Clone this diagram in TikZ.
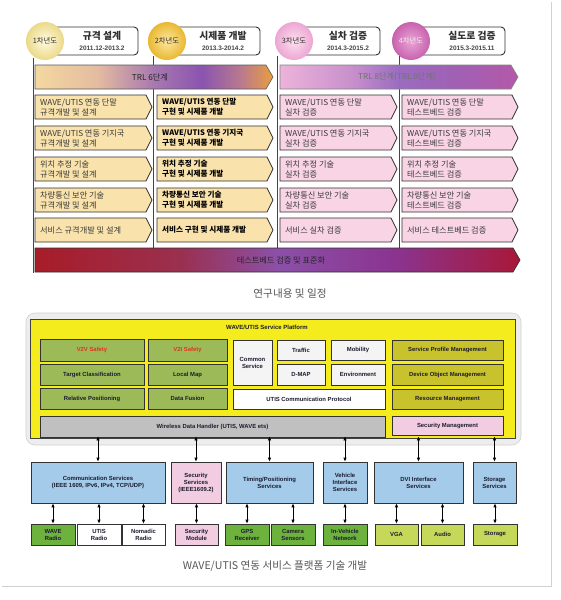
\documentclass[tikz,border=0pt]{standalone}
\usepackage{fontspec}
\setmainfont{Liberation Sans}
\newfontfamily\kr{Noto Sans CJK KR}
\usetikzlibrary{arrows.meta}
\definecolor{edge}{HTML}{303030}
\definecolor{tanbox}{HTML}{F9E2AC}
\definecolor{pinkbox}{HTML}{F8D4E4}
\definecolor{txtA}{HTML}{3A3A3A}
\definecolor{ylw}{HTML}{F4EC1C}
\definecolor{grn}{HTML}{9CBB58}
\definecolor{olv}{HTML}{C8C22C}
\definecolor{wgray}{HTML}{C0C0C0}
\definecolor{cwhite}{HTML}{F4F4F4}
\definecolor{secpink}{HTML}{F2CCE0}
\definecolor{svblue}{HTML}{A4CBEA}
\definecolor{devgrn}{HTML}{6CB23C}
\definecolor{devylg}{HTML}{C6D85A}
\definecolor{btxt}{HTML}{1C1C30}
\definecolor{redt}{HTML}{E03420}
\definecolor{capg}{HTML}{555555}
% shading colours
\definecolor{sa1}{HTML}{F4D8A0}\definecolor{sa2}{HTML}{E4BCA0}\definecolor{sa3}{HTML}{A878B0}
\definecolor{sa4}{HTML}{8A54B0}\definecolor{sa5}{HTML}{B87890}\definecolor{sa6}{HTML}{E89E40}
\definecolor{sb1}{HTML}{ECB4DA}\definecolor{sb2}{HTML}{C890CC}\definecolor{sb3}{HTML}{9A6CC0}
\definecolor{sb4}{HTML}{A060B4}\definecolor{sb5}{HTML}{B458A8}
\definecolor{sc1}{HTML}{A81C28}\definecolor{sc2}{HTML}{9A3050}\definecolor{sc3}{HTML}{8C50A8}
\definecolor{sc4}{HTML}{8A3490}\definecolor{sc5}{HTML}{A81838}
% circle colours
\definecolor{ci1}{HTML}{FFFBE0}\definecolor{co1}{HTML}{EBD98A}
\definecolor{ci2}{HTML}{FDE7A0}\definecolor{co2}{HTML}{E9B832}
\definecolor{ci3}{HTML}{FCE0F0}\definecolor{co3}{HTML}{EDA6D2}
\definecolor{ci4}{HTML}{E9A6D6}\definecolor{co4}{HTML}{C862AE}
\pgfdeclarehorizontalshading{trlA}{100bp}{color(0bp)=(sa1); color(25bp)=(sa1); color(38bp)=(sa2); color(50bp)=(sa3); color(60bp)=(sa4); color(68bp)=(sa5); color(75bp)=(sa6); color(100bp)=(sa6)}
\pgfdeclarehorizontalshading{trlB}{100bp}{color(0bp)=(sb1); color(25bp)=(sb1); color(40bp)=(sb2); color(50bp)=(sb3); color(62bp)=(sb4); color(75bp)=(sb5); color(100bp)=(sb5)}
\pgfdeclarehorizontalshading{tbed}{100bp}{color(0bp)=(sc1); color(25bp)=(sc1); color(40bp)=(sc2); color(50bp)=(sc3); color(62bp)=(sc4); color(75bp)=(sc5); color(100bp)=(sc5)}
\newcommand\abx[8]{%
 \path[#6] (#2,#3) -- ({#4-6},#3) -- (#4,{(#3+#5)/2}) -- ({#4-6},#5) -- (#2,#5) -- cycle;
 \node[#7,anchor=west] (#1) at ({#2+4},{(#3+#5)/2}) {#8};}
\begin{document}
\begin{tikzpicture}[x=1pt,y=-1pt,
  rowtxt/.style={font=\kr\fontsize{8.2}{10}\selectfont, align=left, inner sep=1pt, text=txtA},
  rowtxtb/.style={font=\kr\bfseries\fontsize{7.6}{10}\selectfont, align=left, inner sep=1pt, text=black},
  c12/.style={fill=tanbox, draw=edge, line width=0.7pt},
  c34/.style={fill=pinkbox, draw=edge, line width=0.7pt},
  colline/.style={draw=edge!90, line width=0.8pt},
  hbox/.style={draw=edge, line width=0.9pt, fill=white, rounded corners=4pt, inner sep=0pt},
  yr/.style={circle, inner sep=0pt, minimum size=38pt, font=\kr\fontsize{7.3}{8}\selectfont},
  htitle/.style={font=\kr\bfseries\fontsize{9.8}{10}\selectfont, text=edge, inner sep=0pt},
  hdate/.style={font=\bfseries\fontsize{6.5}{7}\selectfont, text=edge!90, inner sep=0pt},
  bantext/.style={font=\kr\fontsize{8.2}{9}\selectfont},
  sbx/.style={draw=black!80, line width=0.6pt, font=\bfseries\fontsize{5.9}{7}\selectfont, align=center, inner sep=0.5pt, text=btxt},
  dbl/.style={{Latex[length=4pt,width=3.4pt]}-{Latex[length=4pt,width=3.4pt]}, line width=0.7pt, black},
  captext/.style={font=\kr\fontsize{10.6}{11}\selectfont, text=capg}
]
\useasboundingbox (0,0) rectangle (561,600);
\fill[white] (0,0) rectangle (561,600);
% page frame
\draw[black!18, line width=0.5pt] (551,2) -- (551,586) -- (2,586);

% ---------------- top section ----------------
\draw[colline] (33,58) -- (33,273);
\draw[colline] (153,56) -- (153,262);
\draw[colline] (277,56) -- (277,262);
\draw[colline] (399,56) -- (399,262);

% header boxes
\node[hbox, minimum width=88pt, minimum height=28pt] (h1) at (94,41) {};
\node[hbox, minimum width=88pt, minimum height=28pt] (h2) at (216,41) {};
\node[hbox, minimum width=81pt, minimum height=28pt] (h3) at (339.5,41) {};
\node[hbox, minimum width=89pt, minimum height=28pt] (h4) at (460.5,41) {};
\node[htitle] (t1) at (102,35.5) {규격 설계};
\node[hdate] (d1) at (102,48) {2011.12-2013.2};
\node[htitle] (t2) at (223,35.5) {시제품 개발};
\node[hdate] (d2) at (223,48) {2013.3-2014.2};
\node[htitle] (t3) at (348,35.5) {실차 검증};
\node[hdate] (d3) at (348,48) {2014.3-2015.2};
\node[htitle] (t4) at (472,35.5) {실도로 검증};
\node[hdate] (d4) at (472,48) {2015.3-2015.11};
% year circles
\node[yr, shade, inner color=ci1, outer color=co1, text=edge] (y1) at (45,41) {1차년도};
\node[yr, shade, inner color=ci2, outer color=co2, text=edge] (y2) at (167,41) {2차년도};
\node[yr, shade, inner color=ci3, outer color=co3, text=edge] (y3) at (294,41) {3차년도};
\node[yr, shade, inner color=ci4, outer color=co4, text=white!92!black] (y4) at (411,41) {4차년도};

% TRL banners
\path[shading=trlA, draw=edge!80, line width=0.6pt] (35,65) -- (266,65) -- (273,77) -- (266,89) -- (35,89) -- cycle;
\node[bantext, text=black!85] (trl1) at (150,77) {TRL 6단계};
\path[shading=trlB, draw=edge!60, line width=0.6pt] (280,65) -- (511,65) -- (518,77) -- (511,89) -- (280,89) -- cycle;
\node[bantext, text=black!55] (trl2) at (397,77) {TRL 8단계(TRL 9단계)};

% rows
\abx{a1}{35}{95}{152}{119}{c12}{rowtxt}{WAVE/UTIS 연동 단말\\규격개발 및 설계}
\abx{a2}{35}{126}{152}{150}{c12}{rowtxt}{WAVE/UTIS 연동 기지국\\규격개발 및 설계}
\abx{a3}{35}{157}{152}{181}{c12}{rowtxt}{위치 추정 기술\\규격개발 및 설계}
\abx{a4}{35}{188}{152}{212}{c12}{rowtxt}{차량통신 보안 기술\\규격개발 및 설계}
\abx{a5}{35}{218}{152}{242}{c12}{rowtxt}{서비스 규격개발 및 설계}

\abx{b1}{157}{95}{273}{119}{c12}{rowtxtb}{WAVE/UTIS 연동 단말\\구현 및 시제품 개발}
\abx{b2}{157}{126}{273}{150}{c12}{rowtxtb}{WAVE/UTIS 연동 기지국\\구현 및 시제품 개발}
\abx{b3}{157}{157}{273}{181}{c12}{rowtxtb}{위치 추정 기술\\구현 및 시제품 개발}
\abx{b4}{157}{188}{273}{212}{c12}{rowtxtb}{차량통신 보안 기술\\구현 및 시제품 개발}
\abx{b5}{157}{218}{273}{242}{c12}{rowtxtb}{서비스 구현 및 시제품 개발}

\abx{c1}{280}{95}{397}{119}{c34}{rowtxt}{WAVE/UTIS 연동 단말\\실차 검증}
\abx{c2}{280}{126}{397}{150}{c34}{rowtxt}{WAVE/UTIS 연동 기지국\\실차 검증}
\abx{c3}{280}{157}{397}{181}{c34}{rowtxt}{위치 추정 기술\\실차 검증}
\abx{c4}{280}{188}{397}{212}{c34}{rowtxt}{차량통신 보안 기술\\실차 검증}
\abx{c5}{280}{218}{397}{242}{c34}{rowtxt}{서비스 실차 검증}

\abx{e1}{402}{95}{518}{119}{c34}{rowtxt}{WAVE/UTIS 연동 단말\\테스트베드 검증}
\abx{e2}{402}{126}{518}{150}{c34}{rowtxt}{WAVE/UTIS 연동 기지국\\테스트베드 검증}
\abx{e3}{402}{157}{518}{181}{c34}{rowtxt}{위치 추정 기술\\테스트베드 검증}
\abx{e4}{402}{188}{518}{212}{c34}{rowtxt}{차량통신 보안 기술\\테스트베드 검증}
\abx{e5}{402}{218}{518}{242}{c34}{rowtxt}{서비스 테스트베드 검증}

% testbed banner
\path[shading=tbed, draw=edge, line width=0.7pt] (35,248) -- (513,248) -- (520,260) -- (513,272) -- (35,272) -- cycle;
\node[bantext, text=black!85] (tb) at (281,260) {테스트베드 검증 및 표준화};

\node[captext] (cap1) at (290,294) {연구내용 및 일정};

% ---------------- bottom section ----------------
\path[fill=black!7, draw=black!18, line width=0.6pt, rounded corners=9pt] (26,313) rectangle (521,445);
\node[fill=ylw, draw=black!75, line width=0.7pt, minimum width=485pt, minimum height=119pt, inner sep=0pt] (plat) at (272.5,378.5) {};
\node[font=\bfseries\fontsize{6}{7}\selectfont, text=btxt] (ptitle) at (267,327) {WAVE/UTIS Service Platform};

\node[sbx, fill=grn, minimum width=104pt, minimum height=22pt, text=redt] (v2v) at (92,350) {V2V Safety};
\node[sbx, fill=grn, minimum width=79pt, minimum height=22pt, text=redt] (v2i) at (187.5,350) {V2I Safety};
\node[sbx, fill=grn, minimum width=104pt, minimum height=21pt] (tc) at (92,374.5) {Target Classification};
\node[sbx, fill=grn, minimum width=79pt, minimum height=21pt] (lm) at (187.5,374.5) {Local Map};
\node[sbx, fill=grn, minimum width=104pt, minimum height=21pt] (rp) at (92,398.5) {Relative Positioning};
\node[sbx, fill=grn, minimum width=79pt, minimum height=21pt] (df) at (187.5,398.5) {Data Fusion};

\node[sbx, fill=cwhite, minimum width=39pt, minimum height=45pt] (cs) at (252.5,362.5) {Common\\Service};
\node[sbx, fill=cwhite, minimum width=48pt, minimum height=20pt] (trf) at (301,350) {Traffic};
\node[sbx, fill=cwhite, minimum width=54pt, minimum height=20pt] (mob) at (358,350) {Mobility};
\node[sbx, fill=cwhite, minimum width=48pt, minimum height=21pt] (dmap) at (301,374.5) {D-MAP};
\node[sbx, fill=cwhite, minimum width=54pt, minimum height=21pt] (env) at (358,374.5) {Environment};
\node[sbx, fill=white, minimum width=152pt, minimum height=20pt] (ucp) at (309,399) {UTIS Communication Protocol};
\node[sbx, fill=wgray, minimum width=345pt, minimum height=21pt] (wdh) at (212.5,426.5) {Wireless Data Handler (UTIS, WAVE ets)};

\node[sbx, fill=olv, minimum width=111pt, minimum height=20pt] (spm) at (447.5,350) {Service Profile Management};
\node[sbx, fill=olv, minimum width=111pt, minimum height=21pt] (dom) at (447.5,374.5) {Device Object Management};
\node[sbx, fill=olv, minimum width=111pt, minimum height=20pt] (rm) at (447.5,399) {Resource Management};
\node[sbx, fill=secpink, minimum width=111pt, minimum height=19pt] (sm) at (447.5,425.5) {Security Management};

% services
\node[sbx, fill=svblue, minimum width=134pt, minimum height=41pt] (comm) at (98,482.5) {Communication Services\\(IEEE 1609, IPv6, IPv4, TCP/UDP)};
\node[sbx, fill=secpink, minimum width=50pt, minimum height=41pt] (secs) at (196,482.5) {Security\\Services\\(IEEE1609.2)};
\node[sbx, fill=svblue, minimum width=87pt, minimum height=41pt] (tim) at (269.5,482.5) {Timing/Positioning\\Services};
\node[sbx, fill=svblue, minimum width=44pt, minimum height=41pt] (vis) at (345,482.5) {Vehicle\\Interface\\Services};
\node[sbx, fill=svblue, minimum width=89pt, minimum height=41pt] (dvi) at (418.5,482.5) {DVI Interface\\Services};
\node[sbx, fill=svblue, minimum width=43pt, minimum height=41pt] (sto) at (494.5,482.5) {Storage\\Services};

% devices
\node[sbx, fill=devgrn, minimum width=44pt, minimum height=21pt] (wave) at (53,534.5) {WAVE\\Radio};
\node[sbx, fill=white, minimum width=44pt, minimum height=21pt] (utis) at (99,534.5) {UTIS\\Radio};
\node[sbx, fill=white, minimum width=43pt, minimum height=21pt] (nom) at (143.5,534.5) {Nomadic\\Radio};
\node[sbx, fill=secpink, minimum width=43pt, minimum height=21pt] (smod) at (196.5,534.5) {Security\\Module};
\node[sbx, fill=devgrn, minimum width=44pt, minimum height=21pt] (gps) at (247,534.5) {GPS\\Receiver};
\node[sbx, fill=devgrn, minimum width=44pt, minimum height=21pt] (cam) at (293,534.5) {Camera\\Sensors};
\node[sbx, fill=devgrn, minimum width=44pt, minimum height=21pt] (inv) at (345,534.5) {In-Vehicle\\Network};
\node[sbx, fill=devylg, minimum width=43pt, minimum height=21pt] (vga) at (396.5,534.5) {VGA};
\node[sbx, fill=devylg, minimum width=43pt, minimum height=21pt] (aud) at (442.5,534.5) {Audio};
\node[sbx, fill=devylg, minimum width=44pt, minimum height=21pt] (sto2) at (495,534.5) {Storage};

% arrows platform -> services
\foreach \n in {comm,secs,tim,vis,dvi,sto}
  \draw[dbl] ([yshift=2pt]\n.north |- plat.south) -- (\n.north);
% arrows services -> devices
\draw[dbl] (wave.north) -- (wave.north |- comm.south);
\draw[dbl] (utis.north) -- (utis.north |- comm.south);
\draw[dbl] (nom.north) -- (nom.north |- comm.south);
\draw[dbl] (smod.north) -- (smod.north |- secs.south);
\draw[dbl] (gps.north) -- (gps.north |- tim.south);
\draw[dbl] (cam.north) -- (cam.north |- tim.south);
\draw[dbl] (inv.north) -- (inv.north |- vis.south);
\draw[dbl] (vga.north) -- (vga.north |- dvi.south);
\draw[dbl] (aud.north) -- (aud.north |- dvi.south);
\draw[dbl] (sto2.north) -- (sto2.north |- sto.south);

\node[captext] (cap2) at (275,566) {WAVE/UTIS 연동 서비스 플랫폼 기술 개발};
\end{tikzpicture}
\end{document}
